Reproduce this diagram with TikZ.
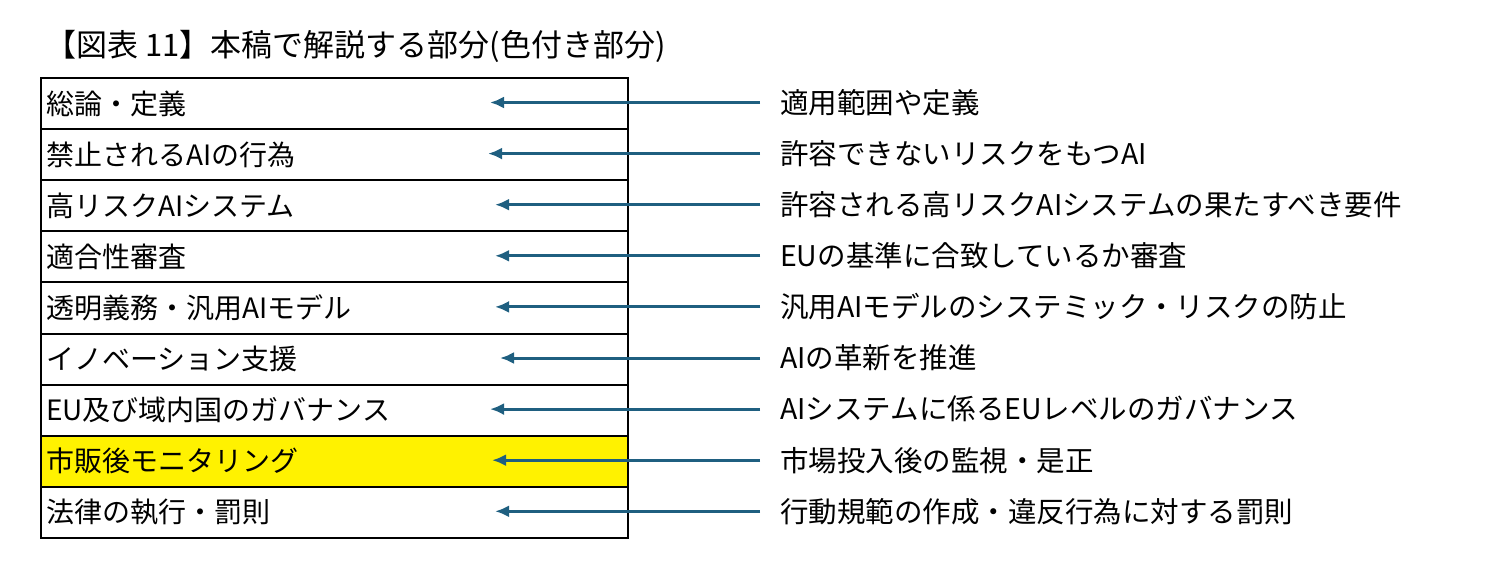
\documentclass[tikz,border=0pt]{standalone}
\usepackage{fontspec}
\usetikzlibrary{arrows.meta}
\setmainfont{Noto Sans CJK JP}
\begin{document}
\begin{tikzpicture}[x=1pt,y=-1pt,
  row/.style={draw=black,line width=2pt,minimum width=587pt,minimum height=51.1pt,anchor=north west,inner xsep=5pt,text=black,font=\fontsize{28}{28}\selectfont,align=left,text width=577pt},
  lbl/.style={anchor=west,font=\fontsize{28.5}{28.5}\selectfont,inner sep=0pt},
  arr/.style={draw=arrowc,line width=3pt,-{Latex[length=14pt,width=12pt]}}]
\definecolor{arrowc}{HTML}{1F5F80}
\useasboundingbox (0,0) rectangle (1488,575);
\node[anchor=west,font=\fontsize{31}{31}\selectfont,inner sep=0pt] (title) at (45,46) {【図表 11】本稿で解説する部分(色付き部分)};
\foreach \t [count=\i] in {総論・定義,禁止されるAIの行為,高リスクAIシステム,適合性審査,透明義務・汎用AIモデル,イノベーション支援,EU及び域内国のガバナンス,市販後モニタリング,法律の執行・罰則}{
  \pgfmathsetmacro\yy{77+(\i-1)*51.1}
  \ifnum\i=8
    \node[row,fill=yellow] (r\i) at (40,\yy) {\t};
  \else
    \node[row] (r\i) at (40,\yy) {\t};
  \fi
}
\foreach \t/\ex [count=\i] in {適用範囲や定義/490,許容できないリスクをもつAI/488,許容される高リスクAIシステムの果たすべき要件/495,EUの基準に合致しているか審査/495,汎用AIモデルのシステミック・リスクの防止/495,AIの革新を推進/500,AIシステムに係るEUレベルのガバナンス/490,市場投入後の監視・是正/492,行動規範の作成・違反行為に対する罰則/495}{
  \pgfmathsetmacro\yy{77+(\i-1)*51.1+25.5}
  \node[lbl] (l\i) at (780,\yy) {\t};
  \coordinate (s\i) at (760,\yy);
  \coordinate (e\i) at (\ex,\yy);
  \draw[arr] (s\i) -- (e\i);
}
\end{tikzpicture}
\end{document}
